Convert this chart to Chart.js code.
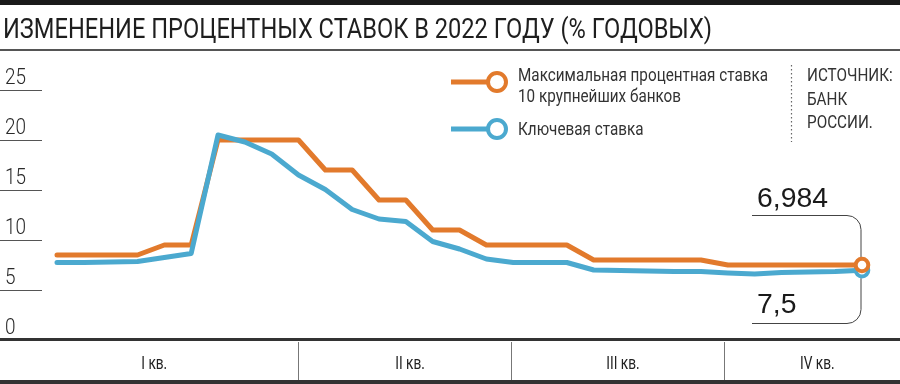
<!DOCTYPE html>
<html><head><meta charset="utf-8">
<script src="https://cdn.jsdelivr.net/npm/chart.js@4.4.1/dist/chart.umd.min.js"></script>
<style>
html,body{margin:0;padding:0;background:#fff;}
#wrap{position:relative;width:900px;height:384px;overflow:hidden;}
canvas{display:block;}
</style></head><body>
<div id="wrap"><canvas id="c" width="900" height="384"></canvas></div>
<script>
// ---------- DATA ----------
const titleText = 'ИЗМЕНЕНИЕ ПРОЦЕНТНЫХ СТАВОК В 2022 ГОДУ (% ГОДОВЫХ)';
const periods = [0,1,2,3,4,5,6,7,8,9,10,11,12,13,14,15,16,17,18,19,20,21,22,23,24,25,26,27,28,29,30];
const maxRate10Banks = [8.5,8.5,8.5,8.5,9.5,9.5,20,20,20,20,17,17,14,14,11,11,9.5,9.5,9.5,9.5,8,8,8,8,8,7.5,7.5,7.5,7.5,7.5,7.5];
const keyRate = [7.75,7.75,7.8,7.85,8.25,8.65,20.5,19.8,18.6,16.5,15.05,13.05,12.1,11.85,9.85,9.1,8.1,7.75,7.75,7.75,7.0,6.95,6.9,6.85,6.85,6.7,6.6,6.75,6.8,6.85,6.984];
const yTicks = [0,5,10,15,20,25];
const quarterLabels = ['I кв.','II кв.','III кв.','IV кв.'];
const quarterBoundaries = [8.98,16.92,24.86];
const legendLines = [['Максимальная процентная ставка','10 крупнейших банков'],['Ключевая ставка']];
const sourceLines = ['ИСТОЧНИК:','БАНК','РОССИИ.'];
const endLabels = ['6,984','7,5'];

const ORANGE = '#E27A2C';
const BLUE = '#4BA9CF';
const INK = '#222222';

function fitScale(ctx, txt, font, w){ ctx.save(); ctx.font = font; const m = ctx.measureText(txt).width; ctx.restore(); return w / m; }
function ctext(ctx, txt, x, y, font, color, sx, align){
  ctx.save(); ctx.font = font; ctx.fillStyle = color; ctx.textBaseline = 'alphabetic';
  ctx.textAlign = align || 'left';
  ctx.translate(x, y); ctx.scale(sx, 1); ctx.fillText(txt, 0, 0); ctx.restore();
}

const deco = {
  id: 'deco',
  beforeDraw(chart){
    const ctx = chart.ctx;
    ctx.save(); ctx.fillStyle = '#fff'; ctx.fillRect(0,0,chart.width,chart.height); ctx.restore();
  },
  afterDraw(chart){
    const ctx = chart.ctx, x = chart.scales.x, y = chart.scales.y, W = chart.width;
    // top rule
    ctx.save();
    ctx.fillStyle = '#1a1a1a'; ctx.fillRect(0, 0, W, 5);
    ctx.fillStyle = '#555'; ctx.fillRect(0, 49, W, 2);
    ctx.restore();
    // title
    const tFont = '400 28px Roboto, "Liberation Sans", sans-serif';
    ctext(ctx, titleText, 3, 38, tFont, '#1e1e1e', fitScale(ctx, titleText, tFont, 709));

    // y ticks
    const yFont = '300 22px Roboto, "Liberation Sans", sans-serif';
    const ysx = fitScale(ctx, '25', yFont, 21);
    yTicks.forEach(v => {
      const py = y.getPixelForValue(v);
      if (v > 0) {
        ctx.save(); ctx.strokeStyle = '#555'; ctx.lineWidth = 1;
        ctx.beginPath(); ctx.moveTo(0, Math.round(py)+0.5); ctx.lineTo(42, Math.round(py)+0.5); ctx.stroke(); ctx.restore();
      }
      ctext(ctx, String(v), 5, py - 6.5, yFont, '#2a2a2a', ysx);
    });

    // x axis lines
    const y0 = y.getPixelForValue(0);
    ctx.save();
    ctx.fillStyle = '#333'; ctx.fillRect(0, y0 - 2, W, 3);
    ctx.fillRect(0, 380, W, 4);
    ctx.strokeStyle = '#777'; ctx.lineWidth = 1;
    const bpx = quarterBoundaries.map(b => Math.round(x.getPixelForValue(b)) + 0.5);
    bpx.forEach(px => { ctx.beginPath(); ctx.moveTo(px, y0 + 2); ctx.lineTo(px, 380); ctx.stroke(); });
    ctx.restore();
    const qFont = '400 19px Roboto, "Liberation Sans", sans-serif';
    const edges = [0].concat(bpx, [W]);
    quarterLabels.forEach((lab, i) => {
      const cx = (edges[i] + edges[i+1]) / 2 + 5;
      ctext(ctx, lab, cx, 369, qFont, INK, 0.72, 'center');
    });

    // legend
    const lFont = '400 18px Roboto, "Liberation Sans", sans-serif';
    const lsx = fitScale(ctx, legendLines[0][0], lFont, 250);
    const legendDefs = [[ORANGE, 82, [81, 102]], [BLUE, 129, [135]]];
    legendDefs.forEach((d, i) => {
      ctx.save();
      ctx.strokeStyle = d[0]; ctx.lineWidth = 5; ctx.lineCap = 'butt';
      ctx.beginPath(); ctx.moveTo(451, d[1]); ctx.lineTo(489, d[1]); ctx.stroke();
      ctx.beginPath(); ctx.arc(497, d[1], 9, 0, Math.PI*2); ctx.fillStyle = '#fff'; ctx.fill();
      ctx.lineWidth = 4; ctx.stroke();
      ctx.restore();
      legendLines[i].forEach((t, k) => ctext(ctx, t, 518, d[2][k], lFont, '#333', lsx));
    });

    // source
    ctx.save(); ctx.strokeStyle = '#666'; ctx.lineWidth = 1.2; ctx.setLineDash([1.5, 2.5]);
    ctx.beginPath(); ctx.moveTo(791.5, 65); ctx.lineTo(791.5, 142); ctx.stroke(); ctx.restore();
    [81, 105, 128].forEach((by, k) => ctext(ctx, sourceLines[k], 807, by, lFont, '#333', lsx));

    // end annotations
    const mb = chart.getDatasetMeta(0).data, mo = chart.getDatasetMeta(1).data;
    const pb = mb[mb.length-1], po = mo[mo.length-1];
    const ex = po.x - 1;
    ctx.save(); ctx.strokeStyle = '#444'; ctx.lineWidth = 1;
    const r = 14;
    ctx.beginPath();
    ctx.moveTo(752, 215.5); ctx.lineTo(ex - r, 215.5);
    ctx.arcTo(ex, 215.5, ex, 215.5 + r, r); ctx.lineTo(ex, po.y - 8);
    ctx.stroke();
    ctx.beginPath();
    ctx.moveTo(ex, pb.y + 8); ctx.lineTo(ex, 323.5 - r);
    ctx.arcTo(ex, 323.5, ex - r, 323.5, r); ctx.lineTo(752, 323.5);
    ctx.stroke();
    ctx.restore();
    const aFont = '400 27px "Liberation Sans", Arial, sans-serif';
    ctext(ctx, endLabels[0], 757, 207, aFont, '#1a1a1a', fitScale(ctx, endLabels[0], aFont, 71));
    ctext(ctx, endLabels[1], 757, 313, aFont, '#1a1a1a', fitScale(ctx, endLabels[0], aFont, 71));

    // end markers (orange above blue)
    [[pb, BLUE], [po, ORANGE]].forEach(([p, c]) => {
      ctx.save(); ctx.beginPath(); ctx.arc(p.x, p.y, 6.3, 0, Math.PI*2);
      ctx.fillStyle = '#fff'; ctx.fill(); ctx.strokeStyle = c; ctx.lineWidth = 4; ctx.stroke(); ctx.restore();
    });
  }
};

const mk = arr => arr.map((v, i) => ({x: periods[i], y: v}));
new Chart(document.getElementById('c'), {
  type: 'line',
  data: {
    datasets: [
      {label: legendLines[1].join(' '), data: mk(keyRate), borderColor: BLUE, borderWidth: 5, pointRadius: 0, tension: 0, borderCapStyle: 'round', borderJoinStyle: 'round', clip: false},
      {label: legendLines[0].join(' '), data: mk(maxRate10Banks), borderColor: ORANGE, borderWidth: 5, pointRadius: 0, tension: 0, borderCapStyle: 'round', borderJoinStyle: 'round', clip: false}
    ]
  },
  options: {
    responsive: false, animation: false, devicePixelRatio: 1,
    layout: {padding: {top: 90, bottom: 44, left: 0, right: 0}},
    plugins: {legend: {display: false}, tooltip: {enabled: false}, title: {display: false}},
    scales: {
      x: {type: 'linear', min: -2.1243, max: 31.416, display: false},
      y: {type: 'linear', min: 0, max: 25, display: false}
    }
  },
  plugins: [deco]
});
</script>
</body></html>
